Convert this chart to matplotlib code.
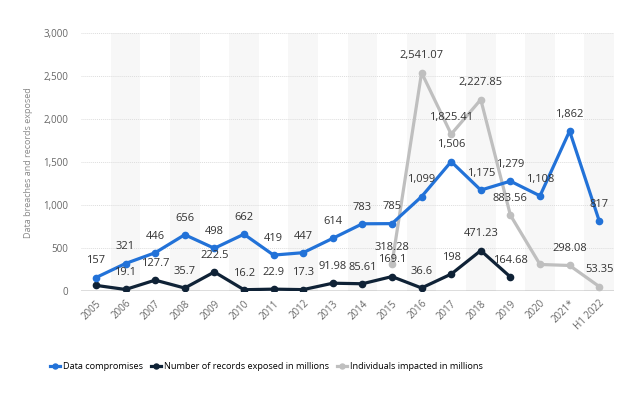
import matplotlib.pyplot as plt
import numpy as np

# ---------------------------------------------------------
#                          Data
# ---------------------------------------------------------
years = ["2005", "2006", "2007", "2008", "2009", "2010", "2011", "2012", "2013",
         "2014", "2015", "2016", "2017", "2018", "2019", "2020", "2021*", "H1 2022"]

compromises = [157, 321, 446, 656, 498, 662, 419, 447, 614,
               783, 785, 1099, 1506, 1175, 1279, 1108, 1862, 817]

records = [66.9, 19.1, 127.7, 35.7, 222.5, 16.2, 22.9, 17.3, 91.98,
           85.61, 169.1, 36.6, 198, 471.23, 164.68]

individuals = [318.28, 2541.07, 1825.41, 2227.85, 883.56, 310, 298.08, 53.35]
individuals_start = 10  # 2015

comp_labels = ["157", "321", "446", "656", "498", "662", "419", "447", "614",
               "783", "785", "1,099", "1,506", "1,175", "1,279", "1,108", "1,862", "817"]
rec_labels = ["", "19.1", "127.7", "35.7", "222.5", "16.2", "22.9", "17.3", "91.98",
              "85.61", "169.1", "36.6", "198", "471.23", "164.68"]
ind_labels = ["318.28", "2,541.07", "1,825.41", "2,227.85", "883.56", "", "298.08", "53.35"]

BLUE = "#2272d8"
NAVY = "#0f2236"
GRAY = "#bfbfbf"
TXT = "#333333"

plt.rcParams["font.family"] = ["Open Sans", "DejaVu Sans"]

# ---------------------------------------------------------
#                          Plot
# ---------------------------------------------------------
fig = plt.figure(figsize=(6.24, 3.95), dpi=100)
ax = fig.add_axes([0.13, 0.263, 0.854, 0.653])

x = np.arange(len(years))
for i in x[1::2]:
    ax.axvspan(i - 0.5, i + 0.5, color="#f7f7f7", zorder=0, lw=0)

for v in [500, 1000, 1500, 2000, 2500, 3000]:
    ax.axhline(v, color="#dddddd", lw=0.7, ls=(0, (1, 1)), zorder=1)
ax.axhline(0, color="#555555", lw=1.0, zorder=2)

xi = x[individuals_start:individuals_start + len(individuals)]
ax.plot(xi, individuals, color=GRAY, lw=2.3, marker="o", ms=4.5, zorder=3,
        label="Individuals impacted in millions")
ax.plot(x, compromises, color=BLUE, lw=2.3, marker="o", ms=4.5, zorder=5,
        label="Data compromises")
ax.plot(x[:len(records)], records, color=NAVY, lw=2.3, marker="o", ms=4.5, zorder=4,
        label="Number of records exposed in millions")

fs = 8
dy = 12


def put_labels(xs, vals, texts):
    for xx, v, s in zip(xs, vals, texts):
        if not s:
            continue
        ax.annotate(s, (xx, v), xytext=(0, dy), textcoords="offset points",
                    ha="center", va="center", fontsize=fs, color=TXT, zorder=6)


put_labels(x, compromises, comp_labels)
put_labels(x[:len(records)], records, rec_labels)
put_labels(xi, individuals, ind_labels)

ax.set_xlim(-0.5, len(years) - 0.5)
ax.set_ylim(0, 3000)
ax.set_yticks([0, 500, 1000, 1500, 2000, 2500, 3000])
ax.set_yticklabels(["0", "500", "1,000", "1,500", "2,000", "2,500", "3,000"])
ax.set_xticks(x)
ax.set_xticklabels(years, rotation=45, ha="right", rotation_mode="anchor")
ax.tick_params(axis="both", length=0, labelsize=7, colors="#666666")
ax.tick_params(axis="y", pad=9)
ax.tick_params(axis="x", pad=5)
for sp in ax.spines.values():
    sp.set_visible(False)

ax.set_ylabel("Data breaches and records exposed", fontsize=6.5, color="#888888",
              labelpad=8)

handles, labels = ax.get_legend_handles_labels()
order = [1, 2, 0]
fig.legend([handles[k] for k in order], [labels[k] for k in order],
           loc="center", bbox_to_anchor=(0.427, 0.072), ncol=3, frameon=False,
           fontsize=6.6, handlelength=1.1, handletextpad=0.4, columnspacing=0.8,
           markerscale=0.8)

fig.savefig("out.png", dpi=100)
